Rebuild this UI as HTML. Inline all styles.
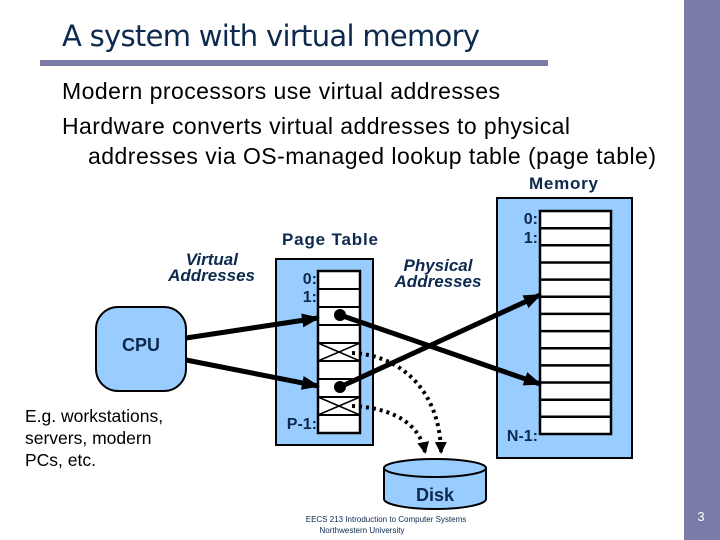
<!DOCTYPE html>
<html><head><meta charset="utf-8"><style>
html,body{margin:0;padding:0;background:#fff}
svg{display:block}
</style></head><body>
<svg width="720" height="540" viewBox="0 0 720 540" xmlns="http://www.w3.org/2000/svg">
<defs>
<marker id="ah2" markerWidth="18" markerHeight="14" refX="16" refY="7" orient="auto" markerUnits="userSpaceOnUse"><path d="M0,0 L18,7 L0,14 Z" fill="#000"/></marker>
<marker id="ad" markerWidth="12" markerHeight="12" refX="10" refY="6" orient="auto" markerUnits="userSpaceOnUse"><path d="M0,0 L12,6 L0,12 Z" fill="#000"/></marker>
</defs>
<rect x="684" y="0" width="36" height="540" fill="#7a7ba6"/>
<rect x="40" y="60" width="508" height="6" fill="#7a7ba6"/>
<text x="62" y="46" font-family="DejaVu Sans, sans-serif" font-size="29" fill="#0d2a4e" textLength="418">A system with virtual memory</text>
<g font-family="Liberation Sans, sans-serif" font-size="23" fill="#000">
<text x="62" y="99" textLength="438">Modern processors use virtual addresses</text>
<text x="62" y="134" textLength="508">Hardware converts virtual addresses to physical</text>
<text x="88" y="164" textLength="568">addresses via OS-managed lookup table (page table)</text>
</g>
<g font-family="Liberation Sans, sans-serif" font-weight="bold" fill="#0d2a4e" font-size="17">
<text x="529" y="189" textLength="69">Memory</text>
<text x="282" y="245" textLength="96">Page Table</text>
<text x="238" y="265" text-anchor="end" font-style="italic">Virtual</text>
<text x="255" y="281" text-anchor="end" font-style="italic">Addresses</text>
<text x="438" y="271" text-anchor="middle" font-style="italic">Physical</text>
<text x="438" y="287" text-anchor="middle" font-style="italic">Addresses</text>
</g>
<!-- Memory -->
<rect x="497" y="198" width="135" height="260" fill="#99ccff" stroke="#000" stroke-width="2"/>
<rect x="540" y="211" width="71" height="223" fill="#fff" stroke="#000" stroke-width="2.5"/>
<g stroke="#000" stroke-width="2.5">
<line x1="540" y1="228.2" x2="611" y2="228.2"/><line x1="540" y1="245.3" x2="611" y2="245.3"/>
<line x1="540" y1="262.5" x2="611" y2="262.5"/><line x1="540" y1="279.6" x2="611" y2="279.6"/>
<line x1="540" y1="296.8" x2="611" y2="296.8"/><line x1="540" y1="313.9" x2="611" y2="313.9"/>
<line x1="540" y1="331.1" x2="611" y2="331.1"/><line x1="540" y1="348.2" x2="611" y2="348.2"/>
<line x1="540" y1="365.4" x2="611" y2="365.4"/><line x1="540" y1="382.5" x2="611" y2="382.5"/>
<line x1="540" y1="399.7" x2="611" y2="399.7"/><line x1="540" y1="416.8" x2="611" y2="416.8"/>
</g>
<g font-family="Liberation Sans, sans-serif" font-weight="bold" fill="#0d2a4e" font-size="16">
<text x="538" y="224" text-anchor="end">0:</text>
<text x="538" y="243" text-anchor="end">1:</text>
<text x="538" y="441" text-anchor="end">N-1:</text>
</g>
<!-- Page table -->
<rect x="276" y="259" width="97" height="186" fill="#99ccff" stroke="#000" stroke-width="2"/>
<rect x="318" y="271" width="42" height="162" fill="#fff" stroke="#000" stroke-width="2.5"/>
<g stroke="#000" stroke-width="2">
<line x1="318" y1="289" x2="360" y2="289"/><line x1="318" y1="307" x2="360" y2="307"/>
<line x1="318" y1="325" x2="360" y2="325"/><line x1="318" y1="343" x2="360" y2="343"/>
<line x1="318" y1="361" x2="360" y2="361"/><line x1="318" y1="379" x2="360" y2="379"/>
<line x1="318" y1="397" x2="360" y2="397"/><line x1="318" y1="415" x2="360" y2="415"/>
<line x1="318" y1="343" x2="360" y2="361" stroke-width="1.5"/><line x1="318" y1="361" x2="360" y2="343" stroke-width="1.5"/>
<line x1="318" y1="397" x2="360" y2="415" stroke-width="1.5"/><line x1="318" y1="415" x2="360" y2="397" stroke-width="1.5"/>
</g>
<g font-family="Liberation Sans, sans-serif" font-weight="bold" fill="#0d2a4e" font-size="16">
<text x="317" y="284" text-anchor="end">0:</text>
<text x="317" y="302" text-anchor="end">1:</text>
<text x="317" y="429" text-anchor="end">P-1:</text>
</g>
<!-- CPU -->
<rect x="96" y="307" width="90" height="84" rx="22" fill="#99ccff" stroke="#000" stroke-width="2"/>
<text x="141" y="351" text-anchor="middle" font-family="Liberation Sans, sans-serif" font-weight="bold" font-size="18" fill="#0d2a4e">CPU</text>
<g font-family="Liberation Sans, sans-serif" font-size="17.5" fill="#000">
<text x="25" y="422">E.g. workstations,</text>
<text x="25" y="444">servers, modern</text>
<text x="25" y="466">PCs, etc.</text>
</g>
<!-- arrows -->
<g stroke="#000" stroke-width="5" fill="none">
<line x1="186" y1="338" x2="318" y2="318" marker-end="url(#ah2)"/>
<line x1="186" y1="360" x2="318" y2="386" marker-end="url(#ah2)"/>
<line x1="340" y1="315" x2="540" y2="384" marker-end="url(#ah2)"/>
<line x1="340" y1="387" x2="540" y2="295" marker-end="url(#ah2)"/>
</g>
<circle cx="340" cy="315" r="6" fill="#000"/>
<circle cx="340" cy="387" r="6" fill="#000"/>
<g stroke="#000" stroke-width="4" stroke-dasharray="3,4" fill="none">
<path d="M352,353 C400,355 440,390 441,452" marker-end="url(#ad)"/>
<path d="M352,406 C395,408 420,425 425,452" marker-end="url(#ad)"/>
</g>
<!-- Disk -->
<path d="M384,468 L384,499 A51,10 0 0 0 486,499 L486,468" fill="#99ccff" stroke="#000" stroke-width="2"/>
<ellipse cx="435" cy="468" rx="51" ry="9" fill="#99ccff" stroke="#000" stroke-width="2"/>
<text x="435" y="501" text-anchor="middle" font-family="Liberation Sans, sans-serif" font-weight="bold" font-size="18" fill="#0d2a4e">Disk</text>
<g font-family="Liberation Sans, sans-serif" font-size="8" fill="#0d2a4e" text-anchor="middle">
<text x="386" y="522">EECS 213 Introduction to Computer Systems</text>
<text x="362" y="533">Northwestern University</text>
</g>
<text x="701" y="521" text-anchor="middle" font-family="Liberation Sans, sans-serif" font-size="13" fill="#fff">3</text>
</svg>
</body></html>
